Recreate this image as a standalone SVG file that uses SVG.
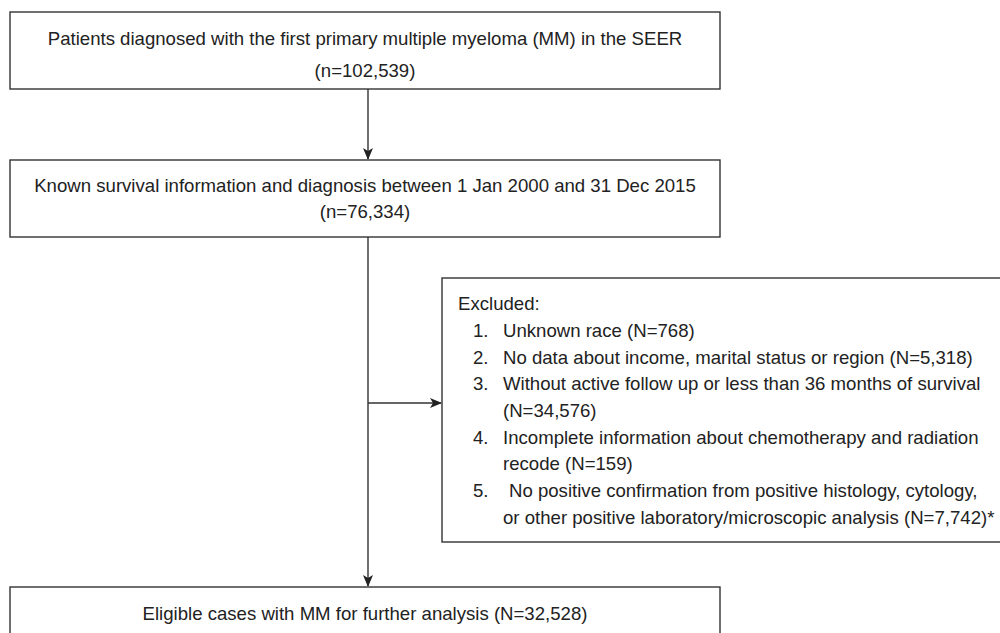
<svg xmlns="http://www.w3.org/2000/svg" width="1000" height="633" viewBox="0 0 1000 633">
<defs>
<style>
.box{fill:#fff;stroke:#333;stroke-width:1.4}
.t{font-family:"Liberation Sans",Arial,sans-serif;font-size:18.6px;fill:#222}
.c{text-anchor:middle}
.ln{stroke:#333;stroke-width:1.4;fill:none}
</style>
<marker id="ah" viewBox="0 0 12 10" refX="11" refY="5" markerWidth="12" markerHeight="10" markerUnits="userSpaceOnUse" orient="auto">
<path d="M0,0 L12,5 L0,10 L3,5 z" fill="#222"/>
</marker>
</defs>
<rect width="1000" height="633" fill="#fff"/>
<g id="connectors">
<line class="ln" x1="368" y1="89" x2="368" y2="159" marker-end="url(#ah)"/>
<line class="ln" x1="368" y1="237" x2="368" y2="586" marker-end="url(#ah)"/>
<line class="ln" x1="368" y1="403" x2="441" y2="403" marker-end="url(#ah)"/>
</g>
<g id="n1">
<rect class="box" x="10" y="12" width="710" height="77"/>
<text class="t c" x="365" y="45">Patients diagnosed with the first primary multiple myeloma (MM) in the SEER</text>
<text class="t c" x="365" y="77">(n=102,539)</text>
</g>
<g id="n2">
<rect class="box" x="10" y="160" width="710" height="77"/>
<text class="t c" x="365" y="192">Known survival information and diagnosis between 1 Jan 2000 and 31 Dec 2015</text>
<text class="t c" x="365" y="218">(n=76,334)</text>
</g>
<g id="n3">
<rect class="box" x="442" y="278" width="570" height="264"/>
<text class="t" x="458" y="310">Excluded:</text>
<text class="t" x="473" y="337">1.</text><text class="t" x="503" y="337">Unknown race (N=768)</text>
<text class="t" x="473" y="364">2.</text><text class="t" x="503" y="364">No data about income, marital status or region (N=5,318)</text>
<text class="t" x="473" y="390">3.</text><text class="t" x="503" y="390">Without active follow up or less than 36 months of survival</text>
<text class="t" x="503" y="417">(N=34,576)</text>
<text class="t" x="473" y="444">4.</text><text class="t" x="503" y="444">Incomplete information about chemotherapy and radiation</text>
<text class="t" x="503" y="470">recode (N=159)</text>
<text class="t" x="473" y="497">5.</text><text class="t" x="509" y="497">No positive confirmation from positive histology, cytology,</text>
<text class="t" x="503" y="524">or other positive laboratory/microscopic analysis (N=7,742)*</text>
</g>
<g id="n4">
<rect class="box" x="10" y="587" width="710" height="60"/>
<text class="t c" x="365" y="620">Eligible cases with MM for further analysis (N=32,528)</text>
</g>
</svg>
